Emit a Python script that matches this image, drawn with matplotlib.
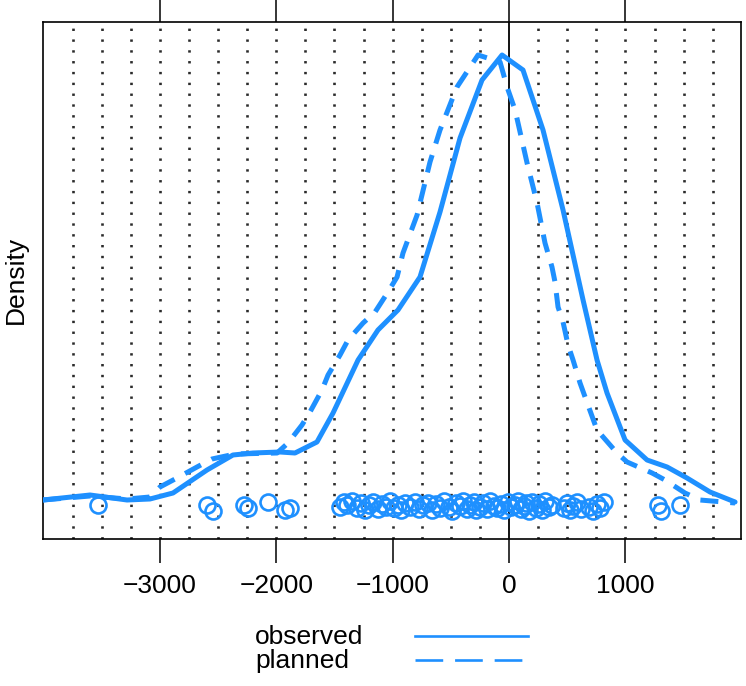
import numpy as np
import matplotlib
matplotlib.use("Agg")
from matplotlib import pyplot as plt
from matplotlib.lines import Line2D

plt.rcParams["font.family"] = ["Liberation Sans", "DejaVu Sans"]

BLUE = "#1E90FF"

# density curves (x, density)
obs_x = [-4004, -3600, -3282, -3085, -2887, -2595, -2372, -2200, -1968, -1839,
         -1650, -1512, -1297, -1126, -954, -765, -593, -421, -232, -60,
         120, 292, 464, 636, 756, 842, 997, 1186, 1358, 1529, 1727, 1942]
obs_y = [6, 11, 6, 7, 13, 36, 51, 53, 54, 53,
         64, 93, 146, 176, 196, 229, 294, 368, 426, 451,
         436, 376, 296, 206, 146, 113, 66, 46, 39, 28, 14, 4]

plan_x = [-4004, -3600, -3282, -3085, -2999, -2853, -2681, -2552, -2354, -1993,
          -1899, -1779, -1710, -1607, -1555, -1452, -1383, -1254, -1151, -1040,
          -962, -911, -790, -679, -593, -447, -266, -77, -17, 52,
          155, 241, 309, 369, 395, 421, 464, 507, 550, 610,
          756, 928, 1014, 1229, 1340, 1512, 1641, 1942]
plan_y = [6, 10, 7, 9, 19, 28, 39, 47, 52, 53,
          63, 81, 94, 116, 131, 151, 166, 183, 194, 214,
          229, 253, 291, 344, 376, 419, 451, 444, 419, 396,
          343, 303, 263, 239, 224, 199, 184, 161, 146, 123,
          76, 53, 44, 33, 26, 13, 6, 3]

# jittered points along the bottom
rug_x = [-3530, -2595, -2540, -2275, -2240, -2070, -1925, -1880, -1455, -1420,
         -1390, -1350, -1305, -1270, -1235, -1200, -1170, -1130, -1095, -1060,
         -1020, -990, -955, -925, -890, -850, -810, -775, -740, -700,
         -660, -625, -590, -555, -520, -490, -455, -425, -395, -365,
         -335, -305, -280, -250, -220, -190, -160, -130, -100, -70,
         -40, -10, 20, 50, 75, 100, 125, 150, 175, 200,
         230, 260, 285, 310, 340, 370, 470, 495, 525, 550,
         580, 620, 690, 720, 760, 785, 820, 1280, 1305, 1470]
rug_y = [1, 1, -5, 1, -2, 4, -4, -2, -1, 4,
         1, 5, -2, 3, -4, 1, 4, -3, 2, -1,
         5, -2, 1, -4, 3, -1, 4, -3, 1, 3,
         -4, 2, -2, 5, -1, -5, 3, 0, 5, -3,
         1, 4, -4, -1, 3, -3, 5, 0, -2, 2,
         -4, 4, -1, 1, 5, -3, 0, 3, -5, 4,
         -2, 2, -4, 5, -1, 1, -2, 3, -4, 0,
         4, -3, -1, -5, 2, -2, 4, 1, -5, 1]

grid_x = np.arange(-3750, 2000, 250)
tick_x = [-3000, -2000, -1000, 0, 1000]

scale = 1e-6
W, H = 746, 686
fig = plt.figure(figsize=(W / 100, H / 100), dpi=100)
left, right, top, bottom = 43, 741, 22, 539
ax = fig.add_axes([left / W, 1 - bottom / H, (right - left) / W, (bottom - top) / H])

for gx in grid_x:
    if gx == 0:
        continue
    ax.axvline(gx, color="#2a2a2a", lw=1.9, ls=(0, (0.9, 3.2)), zorder=1)
ax.axvline(0, color="black", lw=1.3, zorder=2)

ax.plot(obs_x, np.array(obs_y) * scale, color=BLUE, lw=3.6,
        solid_joinstyle="round", solid_capstyle="round", zorder=3)
ax.plot(plan_x, np.array(plan_y) * scale, color=BLUE, lw=3.6,
        ls=(0, (3.6, 2.4)), dash_capstyle="butt", zorder=3)
ax.plot(rug_x, np.array(rug_y) * scale, ls="none", marker="o", ms=11.5,
        mfc="none", mec=BLUE, mew=1.9, zorder=4)

ax.set_xlim(-4004, 1993)
ax.set_ylim(-(bottom - 506) * scale, (506 - top) * scale)
ax.set_yticks([])
ax.set_xticks(tick_x)
ax.set_xticklabels([f"{t:d}".replace("-", "\u2212") for t in tick_x])
ax.tick_params(axis="x", which="both", direction="out", length=17, width=1.1,
               top=True, labeltop=False, labelsize=19, pad=8)
for s in ax.spines.values():
    s.set_linewidth(1.2)

fig.text(16 / W, 1 - 280 / H, "Density", fontsize=19, rotation=90,
         ha="center", va="center")

# key below the panel
fig.text(255 / W, 1 - 637 / H, "observed", fontsize=19, va="center", ha="left")
fig.text(255 / W, 1 - 661 / H, "planned", fontsize=19, va="center", ha="left")
fig.add_artist(Line2D([415 / W, 528 / W], [1 - 636 / H] * 2, color=BLUE, lw=1.9))
fig.add_artist(Line2D([415 / W, 528 / W], [1 - 660 / H] * 2, color=BLUE, lw=1.9,
                      ls=(0, (10.5, 4.5))))

fig.savefig("out.png", dpi=100)
